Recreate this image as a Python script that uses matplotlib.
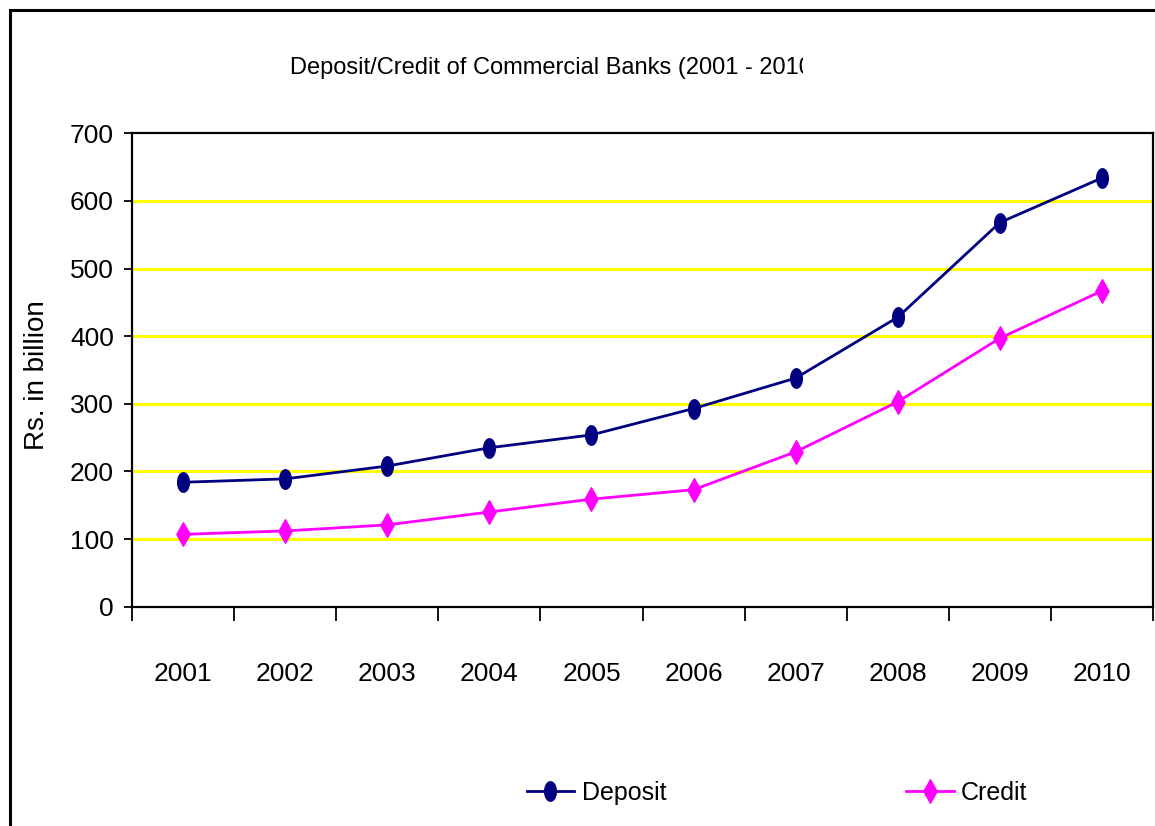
import numpy as np
import matplotlib
matplotlib.use("Agg")
import matplotlib.pyplot as plt
from matplotlib.path import Path
from matplotlib.patches import Rectangle
from matplotlib.transforms import Bbox

# Deposits and credit of commercial banks, Rs. in billion
years = ["2001", "2002", "2003", "2004", "2005",
         "2006", "2007", "2008", "2009", "2010"]
deposit = [184, 189, 208, 235, 254, 293, 338, 428, 568, 634]
credit = [107, 112, 121, 140, 159, 173, 229, 303, 397, 467]

FONT = ["Liberation Sans", "DejaVu Sans"]

# tall ellipse and tall diamond markers
t = np.linspace(0, 2 * np.pi, 40)
ellipse = Path(np.column_stack([0.3 * np.cos(t), 0.5 * np.sin(t)]), closed=True)
diamond = Path([(0, 0.5), (0.28, 0), (0, -0.5), (-0.28, 0), (0, 0.5)], closed=True)

W, H = 1155, 826
fig = plt.figure(figsize=(W / 100, H / 100), dpi=100)
ax = fig.add_axes([132 / W, 1 - 606.7 / H, (1153 - 132) / W, (606.7 - 133.3) / H])

x = np.arange(1, len(years) + 1)
ax.plot(x, deposit, color="#000080", lw=2.0, marker=ellipse, ms=14,
        mfc="#000080", mec="#000080", label="Deposit", zorder=3)
ax.plot(x, credit, color="#FF00FF", lw=2.0, marker=diamond, ms=17,
        mfc="#FF00FF", mec="#FF00FF", label="Credit", zorder=3)

ax.set_xlim(0.5, len(years) + 0.5)
ax.set_ylim(0, 700)
ax.set_yticks(np.arange(0, 701, 100))
for v in range(100, 700, 100):
    ax.axhline(v, color="#FFFF00", lw=2.2, zorder=1)

# category ticks sit between the years, labels centred on them
ax.set_xticks(np.arange(0.5, len(years) + 1, 1))
ax.set_xticklabels([])
ax.set_xticks(x, minor=True)
ax.set_xticklabels(years, minor=True, fontfamily=FONT, fontsize=19)
ax.tick_params(axis="x", which="major", direction="out", length=10, width=1.3)
ax.tick_params(axis="x", which="minor", length=0, pad=40)
ax.tick_params(axis="y", direction="out", length=6, width=1.3, pad=7)
for lab in ax.get_yticklabels():
    lab.set_fontfamily(FONT)
    lab.set_fontsize(19)

for s in ax.spines.values():
    s.set_color("black")
    s.set_linewidth(1.6)

ax.set_ylabel("Rs. in billion", fontfamily=FONT, fontsize=20)
ax.yaxis.set_label_coords(-0.08, 0.49)

# title runs past the chart frame and gets cut off
title = fig.text(290 / W, 1 - 68 / H,
                 "Deposit/Credit of Commercial Banks (2001 - 2010)",
                 ha="left", va="center", fontfamily=FONT, fontsize=17)
title.set_clip_box(Bbox([[0, 0], [803, H]]))
title.set_clip_on(True)

fig.legend(loc="center", bbox_to_anchor=(777 / W, 1 - 793 / H), ncol=2,
           frameon=False, prop={"family": FONT, "size": 18},
           handlelength=1.9, handletextpad=0.3, columnspacing=9.6)

# outer chart frame, open at the right and bottom edges
fig.patches.append(Rectangle((10 / W, -0.1), 1.2, 1 - 10 / H + 0.1,
                             transform=fig.transFigure, fill=False,
                             edgecolor="black", lw=2.2))

fig.savefig("out.png", dpi=100)
